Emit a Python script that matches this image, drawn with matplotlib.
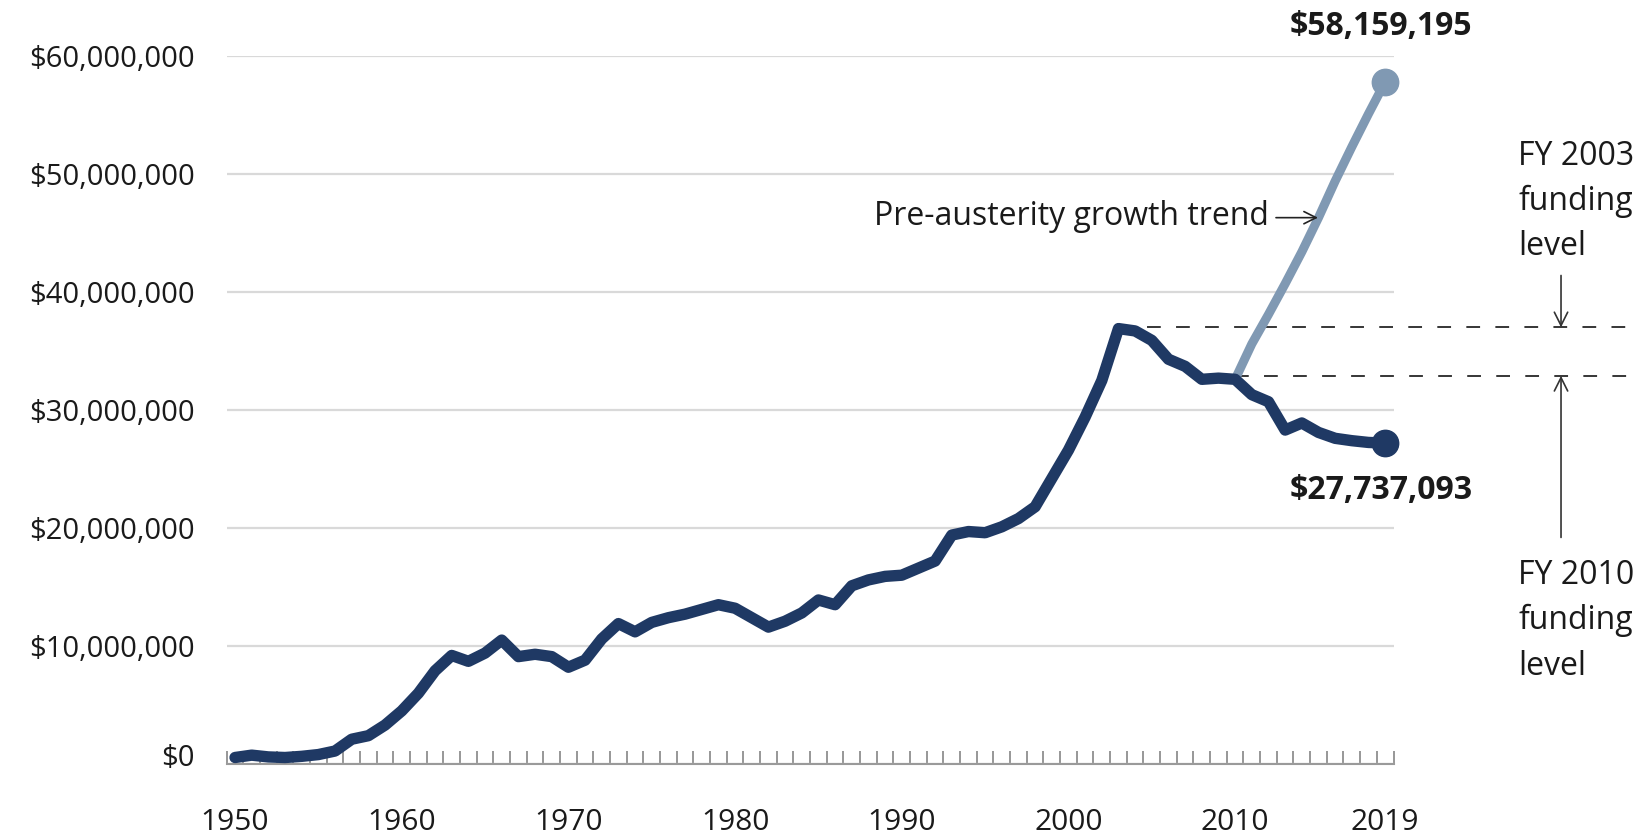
import numpy as np
import matplotlib
matplotlib.use("Agg")
import matplotlib.pyplot as plt
from matplotlib import font_manager as fm
from matplotlib.transforms import ScaledTranslation

# ---------------- data ----------------
years = list(range(1950, 2020))
funding_m = [  # millions of dollars
    0.55, 0.75, 0.6, 0.55, 0.65, 0.8, 1.1, 2.1, 2.4, 3.3,
    4.5, 6.0, 7.9, 9.2, 8.7, 9.4, 10.5, 9.1, 9.3, 9.1,
    8.2, 8.8, 10.6, 11.9, 11.2, 12.0, 12.4, 12.7, 13.1, 13.5,
    13.2, 12.4, 11.6, 12.1, 12.8, 13.9, 13.5, 15.1, 15.6, 15.9,
    16.0, 16.6, 17.2, 19.4, 19.7, 19.6, 20.1, 20.8, 21.8, 24.2,
    26.6, 29.4, 32.5, 36.9, 36.7, 35.9, 34.3, 33.7, 32.6, 32.7,
    32.6, 31.3, 30.7, 28.3, 28.9, 28.1, 27.6, 27.4, 27.25, 27.2,
]
trend_years = list(range(2010, 2020))
trend_m = [32.6, 35.6, 38.1, 40.7, 43.4, 46.3, 49.4, 52.3, 55.1, 57.8]

end_labels = ["$58,159,195", "$27,737,093"]
fy_levels_m = [37.0, 32.9]          # FY 2003 and FY 2010 funding levels
fy_start_years = [2003, 2010]
fy_texts = [["FY 2003", "funding", "level"], ["FY 2010", "funding", "level"]]
trend_label = "Pre-austerity growth trend"

xtick_years = [1950, 1960, 1970, 1980, 1990, 2000, 2010, 2019]
ytick_vals_m = [0, 10, 20, 30, 40, 50, 60]

# ---------------- style ----------------
DARK = "#1f3964"
LIGHT = "#8099b3"
GRID = "#d9d9d9"
TXT = "#1a1a1a"

names = {f.name for f in fm.fontManager.ttflist}
FONT = "Open Sans" if "Open Sans" in names else "DejaVu Sans"

W, H = 1651, 838
fig = plt.figure(figsize=(W / 100, H / 100), dpi=100)
ax_l, ax_r, ax_t, ax_b = 226.7, 1393.5, 56.0, 764.0
ax = fig.add_axes([ax_l / W, (H - ax_b) / H, (ax_r - ax_l) / W, (ax_b - ax_t) / H])

M = 1e6
vals = np.array(funding_m) * M
tvals = np.array(trend_m) * M

ax.set_xlim(1949.5, 2019.5)
ax.set_ylim(0, 60 * M)

# grid / y axis
ax.set_yticks([v * M for v in ytick_vals_m])
ax.set_yticklabels(["${:,.0f}".format(v * M) for v in ytick_vals_m],
                   fontfamily=FONT, fontsize=21, color=TXT)
ax.yaxis.grid(True, color=GRID, lw=1.6, zorder=0)
ax.set_axisbelow(True)
ax.tick_params(axis="y", length=0, pad=23)

# x axis
ax.set_xticks(xtick_years)
ax.set_xticklabels([str(y) for y in xtick_years], fontfamily=FONT,
                   fontsize=21.5, color=TXT)
ax.tick_params(axis="x", which="major", length=0, pad=32)
ax.set_xticks(np.arange(1949.5, 2020.0, 1.0), minor=True)
ax.tick_params(axis="x", which="minor", direction="in", length=9.5,
               width=1.2, color="#858585")

for s in ["left", "right", "top"]:
    ax.spines[s].set_visible(False)
ax.spines["bottom"].set_color("#9a9a9a")
ax.spines["bottom"].set_linewidth(1.5)

# dashed funding levels
x_end = 2033.8
for sy, lvl in zip(fy_start_years, fy_levels_m):
    ax.plot([sy, x_end], [lvl * M, lvl * M], color="black", lw=1.1,
            ls=(0, (9, 10)), clip_on=False, zorder=2)

# series
ax.plot(trend_years, tvals, color=LIGHT, lw=6.5, solid_capstyle="round",
        zorder=3, clip_on=False)
ax.plot(trend_years[-1], tvals[-1], "o", ms=19, color=LIGHT, zorder=3,
        clip_on=False)
ax.plot(years, vals, color=DARK, lw=8.2, solid_capstyle="round",
        solid_joinstyle="round", zorder=4, clip_on=False)
ax.plot(years[-1], vals[-1], "o", ms=19, color=DARK, zorder=5, clip_on=False)

# end labels
ax.annotate(end_labels[0], xy=(trend_years[-1], tvals[-1]), xytext=(-3, 40),
            textcoords="offset points", ha="center", va="center",
            fontfamily=FONT, fontweight="bold", fontsize=23,
            color=TXT, annotation_clip=False)
ax.annotate(end_labels[1], xy=(years[-1], vals[-1]), xytext=(-3, -34),
            textcoords="offset points", ha="center", va="center",
            fontfamily=FONT, fontweight="bold", fontsize=23,
            color=TXT, annotation_clip=False)

# trend annotation
ax.text(1988.33, 45.7 * M, trend_label, ha="left", va="baseline",
        fontfamily=FONT, fontsize=23, color=TXT)
ax.annotate("", xy=(2014.97, 46.3 * M), xytext=(2012.45, 46.3 * M),
            arrowprops=dict(arrowstyle="->", lw=1.2, color="#222222",
                            mutation_scale=22, shrinkA=0, shrinkB=0))

# FY annotations
txt_x = 2026.97
fy_baselines = [[50.8, 46.95, 43.1], [15.25, 11.4, 7.54]]
for lines, bases in zip(fy_texts, fy_baselines):
    for line, b in zip(lines, bases):
        ax.text(txt_x, b * M, line, ha="left", va="baseline",
                fontfamily=FONT, fontsize=23, color=TXT, clip_on=False)

arr_x = 2029.55
ax.annotate("", xy=(arr_x, fy_levels_m[0] * M), xytext=(arr_x, 41.4 * M),
            arrowprops=dict(arrowstyle="->", lw=1.2, color="#333333",
                            mutation_scale=24, shrinkA=0, shrinkB=0),
            annotation_clip=False)
ax.annotate("", xy=(arr_x, fy_levels_m[1] * M), xytext=(arr_x, 19.2 * M),
            arrowprops=dict(arrowstyle="->", lw=1.2, color="#333333",
                            mutation_scale=24, shrinkA=0, shrinkB=0),
            annotation_clip=False)

# the "$0" label sits slightly above the axis line in the original
zero_lbl = ax.yaxis.get_major_ticks()[0].label1
zero_lbl.set_transform(zero_lbl.get_transform()
                       + ScaledTranslation(0, 6.5 / 72, fig.dpi_scale_trans))

fig.savefig("out.png", dpi=100)
